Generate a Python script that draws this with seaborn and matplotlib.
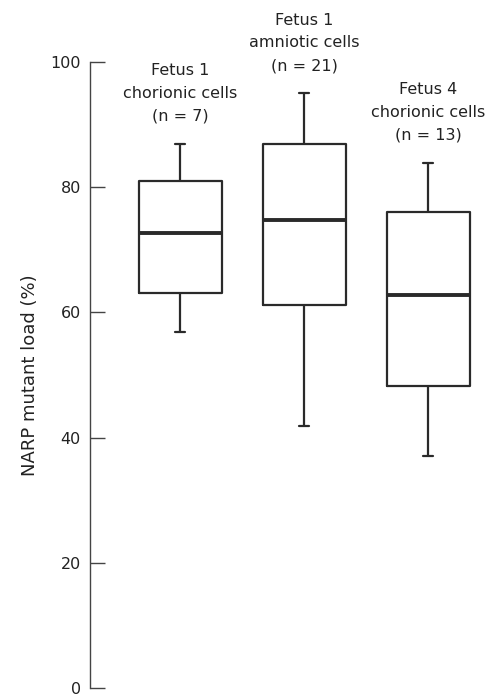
import matplotlib
matplotlib.use("Agg")
import matplotlib.pyplot as plt
import seaborn as sns
import pandas as pd
import numpy as np

# Data: five-number summaries (min, Q1, median, Q3, max)
groups = ["Fetus 1\nchorionic cells\n(n = 7)",
          "Fetus 1\namniotic cells\n(n = 21)",
          "Fetus 4\nchorionic cells\n(n = 13)"]
mins = [56.8, 41.8, 37.0]
q1s = [63.1, 61.2, 48.2]
medians = [72.7, 74.8, 62.7]
q3s = [81.0, 86.9, 76.0]
maxs = [86.9, 95.0, 83.9]
yticks = [0, 20, 40, 60, 80, 100]
ylabel = "NARP mutant load (%)"

rows = []
for g, a, b, c, d, e in zip(groups, mins, q1s, medians, q3s, maxs):
    for v in (a, b, c, d, e):
        rows.append({"group": g, "value": v})
df = pd.DataFrame(rows)

sns.set_style("white")
plt.rcParams["font.family"] = ["DejaVu Sans"]

fig = plt.figure(figsize=(4.91, 6.97), dpi=100)
ax = fig.add_axes([90 / 491, 9 / 697, (484 - 90) / 491, (688 - 62) / 697])

edge = "#2a2a2a"
sns.boxplot(data=df, x="group", y="value", order=groups, whis=(0, 100),
            width=0.67, fill=False, color=edge, linewidth=1.6,
            medianprops={"linewidth": 2.8, "color": edge},
            boxprops={"linewidth": 1.6, "color": edge},
            whiskerprops={"linewidth": 1.6, "color": edge},
            capprops={"linewidth": 1.6, "color": edge},
            showfliers=False, ax=ax)

# shrink the caps
for ln in ax.lines:
    xd = np.asarray(ln.get_xdata(), dtype=float)
    yd = np.asarray(ln.get_ydata(), dtype=float)
    if len(xd) == 2 and yd[0] == yd[1]:
        span = abs(xd[1] - xd[0])
        if 0 < span < 0.6:
            cx = xd.mean()
            ln.set_xdata([cx - 0.04, cx + 0.04])

ax.set_xlim(-0.726, 2.45)
ax.set_ylim(0, 100)
ax.set_yticks(yticks)
ax.set_yticklabels([str(t) for t in yticks])
ax.tick_params(axis="y", direction="in", length=11, width=1.0, color="#444444",
               pad=6.5, labelsize=11.5, labelcolor="#222222", left=True)
ax.set_xticks([])
ax.set_xlabel("")
ax.set_ylabel(ylabel, fontsize=13, color="#222222", labelpad=8)

for s in ["top", "right", "bottom"]:
    ax.spines[s].set_visible(False)
ax.spines["left"].set_color("#444444")
ax.spines["left"].set_linewidth(1.0)

for i, (g, top) in enumerate(zip(groups, maxs)):
    ax.text(i, top + 3.2, g, ha="center", va="bottom", fontsize=11.5,
            color="#222222", linespacing=1.65, clip_on=False)

fig.savefig("out.png", dpi=100)
